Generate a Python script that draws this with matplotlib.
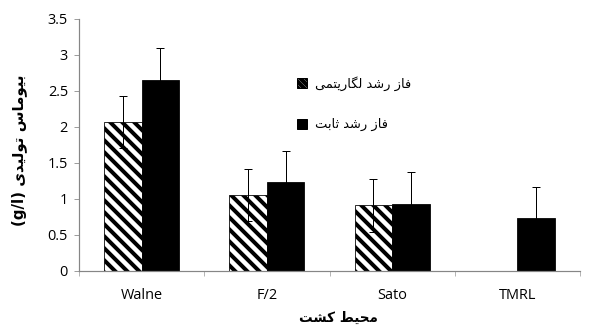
import matplotlib
matplotlib.use("Agg")
import matplotlib.pyplot as plt
import numpy as np
from matplotlib.patches import Patch

media = ["Walne", "F/2", "Sato", "TMRL"]
log_phase = [2.07, 1.05, 0.91, 0.0]
log_err = [0.36, 0.36, 0.37, 0.0]
stat_phase = [2.65, 1.24, 0.93, 0.74]
stat_err = [0.45, 0.43, 0.44, 0.42]
y_ticks = [0, 0.5, 1, 1.5, 2, 2.5, 3, 3.5]

ylabel_fa = "بیوماس تولیدی"
xlabel_fa = "محیط کشت"
legend_fa = ["فاز رشد لگاریتمی", "فاز رشد ثابت"]

# presentation forms: isolated, final, initial, medial
FORMS = {
    "ا": ("\uFE8D", "\uFE8E", None, None),
    "ب": ("\uFE8F", "\uFE90", "\uFE91", "\uFE92"),
    "ت": ("\uFE95", "\uFE96", "\uFE97", "\uFE98"),
    "ث": ("\uFE99", "\uFE9A", "\uFE9B", "\uFE9C"),
    "ح": ("\uFEA1", "\uFEA2", "\uFEA3", "\uFEA4"),
    "د": ("\uFEA9", "\uFEAA", None, None),
    "ر": ("\uFEAD", "\uFEAE", None, None),
    "ز": ("\uFEAF", "\uFEB0", None, None),
    "س": ("\uFEB1", "\uFEB2", "\uFEB3", "\uFEB4"),
    "ش": ("\uFEB5", "\uFEB6", "\uFEB7", "\uFEB8"),
    "ط": ("\uFEC1", "\uFEC2", "\uFEC3", "\uFEC4"),
    "ف": ("\uFED1", "\uFED2", "\uFED3", "\uFED4"),
    "ل": ("\uFEDD", "\uFEDE", "\uFEDF", "\uFEE0"),
    "م": ("\uFEE1", "\uFEE2", "\uFEE3", "\uFEE4"),
    "و": ("\uFEED", "\uFEEE", None, None),
    "ک": ("\uFB8E", "\uFB8F", "\uFB90", "\uFB91"),
    "گ": ("\uFB92", "\uFB93", "\uFB94", "\uFB95"),
    "ی": ("\uFBFC", "\uFBFD", "\uFBFE", "\uFBFF"),
}


def joins_next(c):
    return c in FORMS and FORMS[c][2] is not None


def fa(text):
    # shape letters and flip to visual order
    out = []
    for i, c in enumerate(text):
        if c not in FORMS:
            out.append(c)
            continue
        prev = text[i - 1] if i > 0 else ""
        nxt = text[i + 1] if i + 1 < len(text) else ""
        p = joins_next(prev)
        n = joins_next(c) and nxt in FORMS
        iso, fin, ini, med = FORMS[c]
        if p and n:
            out.append(med)
        elif p:
            out.append(fin)
        elif n:
            out.append(ini)
        else:
            out.append(iso)
    return "".join(reversed(out))


plt.rcParams["font.family"] = ["Open Sans", "DejaVu Sans"]
plt.rcParams["hatch.linewidth"] = 4.0

fig = plt.figure(figsize=(590 / 72, 331 / 72), dpi=72)
ax = fig.add_axes([79 / 590, 1 - 271 / 331, 501 / 590, 252 / 331])

x = np.arange(len(media))
w = 0.3
ax.bar(x - w / 2, log_phase, w, color="white", edgecolor="black",
       hatch="\\\\", linewidth=0.8)
ax.bar(x + w / 2, stat_phase, w, color="black", edgecolor="black", linewidth=0.8)

shown = [i for i in range(len(media)) if log_phase[i] > 0]
ax.errorbar(x[shown] - w / 2, [log_phase[i] for i in shown],
            yerr=[log_err[i] for i in shown], fmt="none", ecolor="black",
            elinewidth=1, capsize=4, capthick=1)
ax.errorbar(x + w / 2, stat_phase, yerr=stat_err, fmt="none", ecolor="black",
            elinewidth=1, capsize=4, capthick=1)

ax.set_xlim(-0.5, len(media) - 0.5)
ax.set_ylim(0, 3.5)
ax.set_yticks(y_ticks)
ax.set_yticklabels([f"{v:g}" for v in y_ticks])
ax.set_xticks(x)
ax.set_xticklabels(media)
ax.set_xticks(np.arange(len(media) + 1) - 0.5, minor=True)
ax.tick_params(axis="x", which="major", length=0, pad=17, labelsize=14.5)
ax.tick_params(axis="x", which="minor", length=5, color="#868686", direction="out")
ax.tick_params(axis="y", length=5, color="#868686", labelsize=14.5, pad=6)
for s in ["top", "right"]:
    ax.spines[s].set_visible(False)
for s in ["left", "bottom"]:
    ax.spines[s].set_color("#868686")
    ax.spines[s].set_linewidth(1.2)

handles = [Patch(facecolor="white", edgecolor="black", hatch="\\\\\\\\"),
           Patch(facecolor="black", edgecolor="black")]
fig.legend(handles, [fa(t) for t in legend_fa], loc="upper left",
           bbox_to_anchor=(297 / 590, 1 - 76 / 331), bbox_transform=fig.transFigure,
           frameon=False, borderpad=0, borderaxespad=0, handlelength=0.8,
           handleheight=0.8, handletextpad=0.6, labelspacing=2.1,
           prop={"family": "DejaVu Sans", "size": 13})

fig.text(19 / 590, 1 - 150 / 331, "(g/l) " + fa(ylabel_fa), rotation=90,
         ha="center", va="center", fontsize=15, fontweight="bold",
         family=["DejaVu Sans"])
fig.text(338 / 590, 1 - 318 / 331, fa(xlabel_fa), ha="center", va="center",
         fontsize=13.5, fontweight="bold", family=["DejaVu Sans"])

fig.savefig("out.png", dpi=72)
